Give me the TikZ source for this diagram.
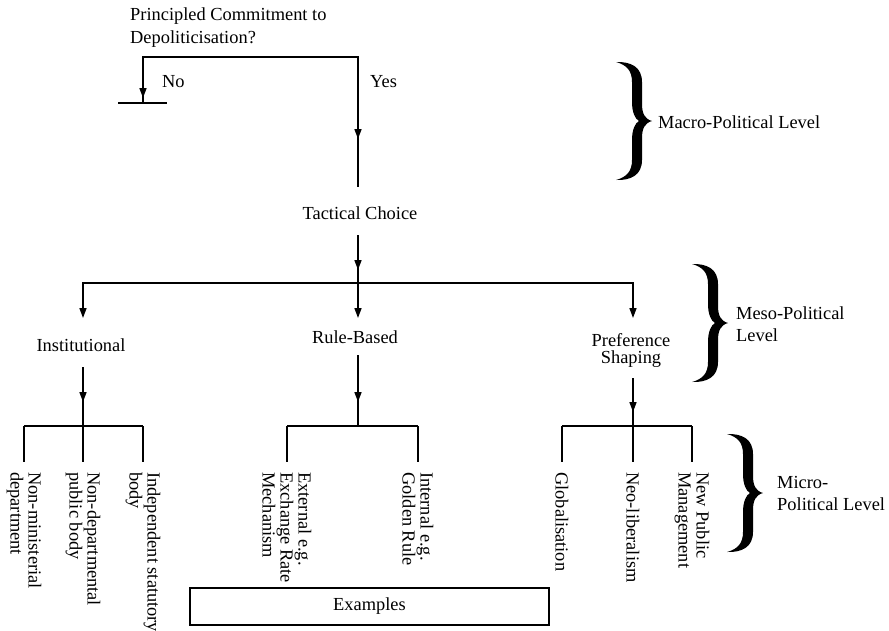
\documentclass[tikz,border=0pt]{standalone}
\usepackage{fontspec}
\setmainfont{Liberation Serif}
\usetikzlibrary{arrows.meta}

\tikzset{
  txt/.style={font=\fontsize{18.4}{22}\selectfont, inner sep=0pt, align=center},
  leaf/.style={txt, rotate=-90, anchor=west, align=left, font=\fontsize{18.4}{18}\selectfont},
  link/.style={line width=1.6pt},
  arr/.style={-{Triangle[length=10pt,width=7pt]}},
}

% curly brace of a level, top end at (#1,#2)
\newcommand{\levelbrace}[2]{%
  \fill[shift={(#1,#2)}] (0,0) .. controls (15,-0.5) and (26,5) .. (26,20) -- (26,42)
    .. controls (26,52) and (29,57) .. (36,59)
    .. controls (29,61) and (26,66) .. (26,76) -- (26,98)
    .. controls (26,113) and (15,118.5) .. (0,118)
    .. controls (11,115) and (16,109) .. (16,98) -- (16,78)
    .. controls (16,68) and (19,61) .. (23,59)
    .. controls (19,57) and (16,50) .. (16,40) -- (16,20)
    .. controls (16,9) and (11,3) .. (0,0) -- cycle;}

\begin{document}
\begin{tikzpicture}[x=1pt,y=-1pt]
    \useasboundingbox (0,0) rectangle (889,630);

    % macro level
    \node[txt, anchor=north west, align=left, font=\fontsize{18.4}{23}\selectfont] (quest) at (130,7.5) {Principled Commitment to\\Depoliticisation?};
    \coordinate (no) at (143,57);
    \coordinate (yes) at (358,57);
    \coordinate (stop) at (143,103);
    \coordinate (tcin) at (358,187);
    \draw[link] (stop) -- (no) -- (yes) -- (tcin);
    \draw[link,arr] (no) -- (143,98);
    \draw[link,arr] (yes) -- (358,139);
    \draw[link] (stop) ++(-25,0) -- ++(49,0);
    \node[txt, anchor=base west] (nolbl) at (162,87) {No};
    \node[txt, anchor=base west] (yeslbl) at (370,87) {Yes};
    \node[txt, anchor=base] (tc) at (360,219) {Tactical Choice};

    % meso level
    \coordinate (tcout) at (358,235);
    \coordinate (mbar) at (358,283);
    \coordinate (instin) at (83,318);
    \coordinate (rulein) at (358,318);
    \coordinate (prefin) at (633,318);
    \draw[link] (tcout) -- (mbar);
    \draw[link,arr] (tcout) -- (358,270);
    \draw[link,arr] (mbar) -| (instin);
    \draw[link,arr] (mbar) -| (prefin);
    \draw[link,arr] (mbar) -- (rulein);
    \node[txt, anchor=base] (inst) at (81,351) {Institutional};
    \node[txt, anchor=base] (rule) at (355,343) {Rule-Based};
    \node[txt, font=\fontsize{18.4}{17}\selectfont] (pref) at (631,350) {Preference\\Shaping};

    % micro level
    \coordinate (instout) at (83,367);
    \coordinate (ruleout) at (358,355);
    \coordinate (prefout) at (633,378);
    \coordinate (ibar) at (83,426);
    \coordinate (rbar) at (358,426);
    \coordinate (pbar) at (633,426);
    \draw[link] (instout) -- (ibar);
    \draw[link] (ruleout) -- (rbar);
    \draw[link] (prefout) -- (pbar);
    \draw[link,arr] (instout) -- (83,402);
    \draw[link,arr] (ruleout) -- (358,402);
    \draw[link,arr] (prefout) -- (633,412);
    \draw[link] (24,426) -- (143,426);
    \draw[link] (287,426) -- (418,426);
    \draw[link] (562,426) -- (692,426);
    \foreach \x/\lbl [count=\i] in {24/{Non-ministerial\\department}, 83/{Non-departmental\\public body},
        143/{Independent statutory\\body}, 287/{External e.g.\\Exchange Rate\\Mechanism},
        418/{Internal e.g.\\Golden Rule}, 562/{Globalisation}, 633/{Neo-liberalism},
        692/{New Public\\Management}} {
      \node[leaf] (leaf\i) at (\x,472) {\lbl};
      \draw[link, shorten >=10pt] (\x,426) -- (leaf\i.west);
    }

    \node[txt, draw, line width=1.6pt, minimum width=359pt, minimum height=37pt] (ex) at (369.5,606.5) {Examples};

    % levels
    \levelbrace{616}{62}
    \levelbrace{692}{264}
    \levelbrace{727}{434}
    \node[txt, anchor=west] (macro) at (658,122) {Macro-Political Level};
    \node[txt, anchor=west, align=left] (meso) at (736,324) {Meso-Political\\Level};
    \node[txt, anchor=west, align=left] (micro) at (777,493) {Micro-\\Political Level};
\end{tikzpicture}
\end{document}
